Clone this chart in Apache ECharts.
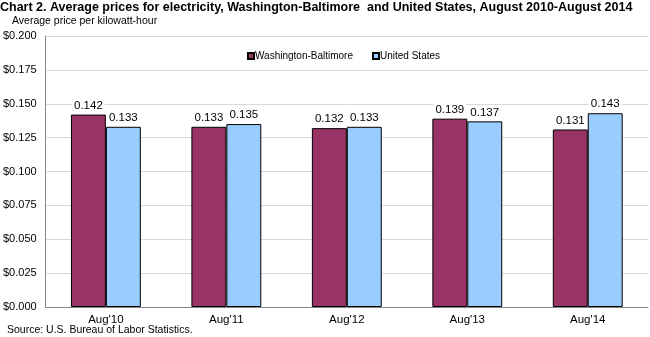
<!DOCTYPE html>
<html>
<head>
<meta charset="utf-8">
<script src="https://cdn.jsdelivr.net/npm/echarts@6/dist/echarts.min.js"></script>
<style>
  html, body { margin: 0; padding: 0; background: #fff; }
  #chart { width: 650px; height: 337px; }
</style>
</head>
<body>
<div id="chart"></div>
<script>
// Average electricity price per kWh, August of each year
const categories = ["Aug'10", "Aug'11", "Aug'12", "Aug'13", "Aug'14"];
const washBalt = [0.142, 0.133, 0.132, 0.139, 0.131];
const unitedStates = [0.133, 0.135, 0.133, 0.137, 0.143];
const seriesNames = ["Washington-Baltimore", "United States"];

const FONT = "'Liberation Sans', Arial, sans-serif";

const chart = echarts.init(document.getElementById('chart'), null, { renderer: 'canvas' });

const labelStyle = {
  show: true,
  position: 'top',
  distance: 3,
  color: '#000',
  fontFamily: FONT,
  fontSize: 11.5,
  backgroundColor: '#fff',
  padding: [0, 2, 0, 2],
  formatter: p => p.value.toFixed(3)
};

chart.setOption({
  animation: false,
  textStyle: { fontFamily: FONT },
  title: [
    {
      text: 'Chart 2. Average prices for electricity, Washington-Baltimore  and United States, August 2010-August 2014',
      left: 0, top: 1, padding: 0,
      textStyle: { fontFamily: FONT, fontSize: 12.5, fontWeight: 'bold', color: '#000' }
    },
    {
      text: 'Average price per kilowatt-hour',
      left: 12, top: 16, padding: 0,
      textStyle: { fontFamily: FONT, fontSize: 10.5, fontWeight: 'normal', color: '#000' }
    },
    {
      text: 'Source: U.S. Bureau of Labor Statistics.',
      left: 7, top: 325, padding: 0,
      textStyle: { fontFamily: FONT, fontSize: 10.5, fontWeight: 'normal', color: '#000' }
    }
  ],
  legend: {
    data: seriesNames,
    top: 46, left: 242,
    itemWidth: 6, itemHeight: 6, itemGap: 19,
    icon: 'rect',
    textStyle: { fontFamily: FONT, fontSize: 10, color: '#000', padding: [0, 0, 0, -4] }
  },
  grid: { left: 45, right: 2, top: 36, bottom: 30, containLabel: false },
  xAxis: {
    type: 'category',
    data: categories,
    axisLine: { lineStyle: { color: '#868686' } },
    axisTick: { show: false },
    axisLabel: { color: '#000', fontFamily: FONT, fontSize: 11.5, margin: 7 }
  },
  yAxis: {
    type: 'value',
    min: 0, max: 0.2, interval: 0.025,
    axisLine: { show: true, lineStyle: { color: '#868686' } },
    axisTick: { show: false },
    splitLine: { lineStyle: { color: '#d9d9d9' } },
    axisLabel: {
      color: '#000', fontFamily: FONT, fontSize: 11, margin: 9,
      formatter: v => '$' + v.toFixed(3)
    }
  },
  series: [
    {
      name: seriesNames[0], type: 'bar', data: washBalt,
      barGap: '0%', barCategoryGap: '42%',
      itemStyle: { color: '#993366', borderColor: '#000', borderWidth: 1 },
      label: labelStyle
    },
    {
      name: seriesNames[1], type: 'bar', data: unitedStates,
      itemStyle: { color: '#99ccff', borderColor: '#000', borderWidth: 1 },
      label: labelStyle
    }
  ]
});
</script>
</body>
</html>
